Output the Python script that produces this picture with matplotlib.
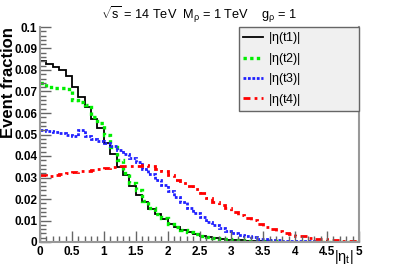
import numpy as np
import matplotlib
matplotlib.use("Agg")
import matplotlib.pyplot as plt
from matplotlib.ticker import MultipleLocator

# bin edges |eta_t| 0..5, 50 bins
edges = np.linspace(0, 5, 51)

t1 = [0.084, 0.0826, 0.0816, 0.080, 0.0772, 0.0722, 0.0676, 0.063, 0.0572, 0.0532,
      0.046, 0.041, 0.035, 0.031, 0.026, 0.022, 0.0185, 0.0155, 0.013, 0.0105,
      0.0085, 0.0068, 0.0055, 0.0045, 0.0035, 0.003, 0.0024, 0.0018, 0.0014, 0.0011,
      0.0009, 0.0007, 0.0005, 0.0004, 0.0003, 0.0003, 0.0002, 0.0002, 0.0001, 0.0001,
      0.0001, 0.0001, 0.0001, 0.0, 0.0, 0.0, 0.0, 0.0, 0.0, 0.0]
t2 = [0.0738, 0.0722, 0.0715, 0.0715, 0.0712, 0.066, 0.065, 0.0637, 0.058, 0.0553,
      0.050, 0.044, 0.038, 0.032, 0.0275, 0.024, 0.019, 0.016, 0.013, 0.011,
      0.0085, 0.0072, 0.0058, 0.0045, 0.0036, 0.003, 0.0024, 0.002, 0.0016, 0.0013,
      0.001, 0.0008, 0.0006, 0.0005, 0.0004, 0.0003, 0.0003, 0.0002, 0.0002, 0.0001,
      0.0001, 0.0001, 0.0001, 0.0001, 0.0, 0.0, 0.0, 0.0, 0.0, 0.0]
t3 = [0.052, 0.0515, 0.051, 0.0505, 0.050, 0.0495, 0.052, 0.0495, 0.048, 0.047,
      0.046, 0.0445, 0.043, 0.041, 0.039, 0.037, 0.034, 0.0315, 0.029, 0.0265,
      0.0235, 0.021, 0.0185, 0.016, 0.0135, 0.0115, 0.0095, 0.0078, 0.0064, 0.0052,
      0.0042, 0.0034, 0.0027, 0.0021, 0.0016, 0.0012, 0.001, 0.0008, 0.0006, 0.0005,
      0.0004, 0.0003, 0.0003, 0.0002, 0.0002, 0.0001, 0.0001, 0.0001, 0.0001, 0.0001]
t4 = [0.031, 0.0305, 0.031, 0.0315, 0.032, 0.0325, 0.033, 0.033, 0.0335, 0.034,
      0.0345, 0.035, 0.0352, 0.0355, 0.0355, 0.0355, 0.0356, 0.0352, 0.034, 0.033,
      0.031, 0.029, 0.0275, 0.026, 0.0245, 0.023, 0.0205, 0.0188, 0.017, 0.0157,
      0.014, 0.0126, 0.011, 0.0102, 0.0085, 0.0072, 0.006, 0.005, 0.004, 0.0035,
      0.003, 0.0026, 0.002, 0.0016, 0.0013, 0.001, 0.0008, 0.0006, 0.0004, 0.0003]

labels = [r'|$\eta$(t1)|', r'|$\eta$(t2)|', r'|$\eta$(t3)|', r'|$\eta$(t4)|']

plt.rcParams['font.family'] = ['Liberation Sans', 'DejaVu Sans']
plt.rcParams['mathtext.fontset'] = 'custom'
plt.rcParams['mathtext.rm'] = 'Liberation Sans'
plt.rcParams['mathtext.it'] = 'Liberation Sans'

fig = plt.figure(figsize=(3.99, 2.70), dpi=100)
ax = fig.add_axes([40 / 399, 28 / 270, 319 / 399, 215 / 270])

ax.stairs(t1, edges, baseline=None, color='black', lw=1.3, label=labels[0])
ax.stairs(t2, edges, baseline=None, color='#00ee00', lw=2.4,
          linestyle=(0, (1, 1)), label=labels[1])
ax.stairs(t3, edges, baseline=None, color='#2020ff', lw=2.0,
          linestyle=(0, (1, 0.6)), label=labels[2])
ax.stairs(t4, edges, baseline=None, color='#ff0000', lw=2.0,
          linestyle=(0, (2.5, 1.5, 1, 1.5)), label=labels[3])

ax.set_xlim(0, 5)
ax.set_ylim(0, 0.1)

ax.xaxis.set_major_locator(MultipleLocator(0.5))
ax.xaxis.set_minor_locator(MultipleLocator(0.1))
ax.yaxis.set_major_locator(MultipleLocator(0.01))
ax.yaxis.set_minor_locator(MultipleLocator(0.002))
ax.xaxis.set_major_formatter(plt.FuncFormatter(lambda v, p: '%g' % v))
ax.yaxis.set_major_formatter(plt.FuncFormatter(lambda v, p: '%g' % round(v, 3)))

ax.tick_params(which='both', direction='in', top=False, right=False,
               color='0.4', labelsize=8.5)
ax.tick_params(which='major', length=8, width=1)
ax.tick_params(which='minor', length=4, width=1)
ax.tick_params(axis='x', pad=3)
ax.tick_params(axis='y', pad=2)
for lab in ax.get_xticklabels() + ax.get_yticklabels():
    lab.set_fontweight('bold')

ax.spines['top'].set_visible(False)
for s in ['left', 'bottom', 'right']:
    ax.spines[s].set_color('0.6')
    ax.spines[s].set_linewidth(1.5)

fig.text(0.002, 1 - 27 / 270, 'Event fraction', rotation=90, ha='left', va='top',
         fontsize=12, fontweight='bold')
ax.text(0.982, -0.03, r'$|\eta_{t}|$', transform=ax.transAxes, ha='right', va='top',
        fontsize=10.5)

fig.text(0.5, 0.985, r'$\sqrt{s}$ = 14 TeV  M$_{\rho}$ = 1 TeV    g$_{\rho}$ = 1',
         ha='center', va='top', fontsize=9.2)

leg = ax.legend(loc='upper left', bbox_to_anchor=(0.624, 1.0, 0.376, 0.0),
                mode='expand', borderaxespad=0,
                fancybox=False, fontsize=9, handlelength=1.6, handletextpad=0.45,
                labelspacing=0.35, borderpad=0.28, framealpha=1)
leg.get_frame().set_facecolor('#f0f0f0')
leg.get_frame().set_edgecolor('0.4')
leg.get_frame().set_linewidth(1)

fig.savefig('out.png', dpi=100)
